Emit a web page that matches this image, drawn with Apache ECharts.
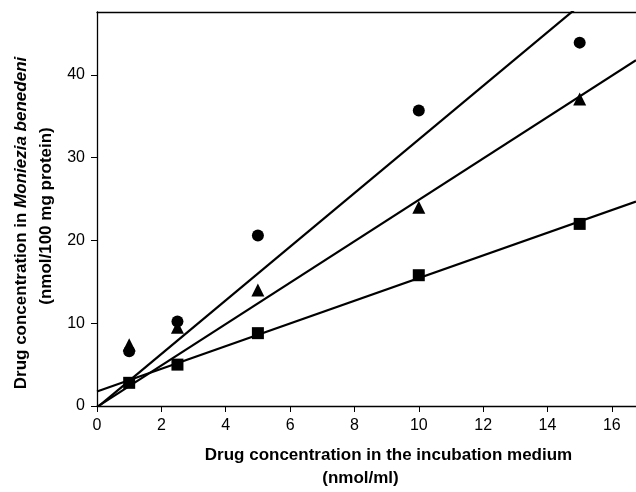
<!DOCTYPE html>
<html>
<head>
<meta charset="utf-8">
<script src="https://cdn.jsdelivr.net/npm/echarts@6/dist/echarts.min.js"></script>
<style>
  html, body { margin: 0; padding: 0; background: #fff; }
  #chart { width: 636px; height: 492px; }
</style>
</head>
<body>
<div id="chart"></div>
<script>
// drug concentration in the medium (nmol/ml)
const concentrations = [1, 2.5, 5, 10, 15];
// uptake by Moniezia benedeni (nmol/100 mg protein)
const circleValues = [6.6, 10.2, 20.6, 35.7, 43.9];
const triangleValues = [7.4, 9.5, 14.0, 24.0, 37.1];
const squareValues = [2.8, 5.0, 8.8, 15.8, 22.0];
// regression lines: circle, triangle, square
const fitSlopes = [3.24, 2.50, 1.37];
const fitIntercepts = [-0.2, -0.1, 1.75];
const xTicks = [0, 2, 4, 6, 8, 10, 12, 14, 16];
const yTicks = [0, 10, 20, 30, 40];

const X_MAX = 16.75;
const Y_MAX = 47.6;
const FONT = "'Liberation Sans', Arial, sans-serif";

function points(values) {
  return concentrations.map((x, i) => [x, values[i]]);
}

function fitLine(k) {
  return [
    [0, fitIntercepts[k]],
    [X_MAX, fitIntercepts[k] + fitSlopes[k] * X_MAX]
  ];
}

let chart = echarts.init(document.getElementById("chart"));

const lineSeries = [0, 1, 2].map(k => ({
  type: "line",
  data: fitLine(k),
  symbol: "none",
  lineStyle: { color: "#000", width: 2.2 },
  silent: true,
  z: 2
}));

const dot = { color: "#000", opacity: 1 };

chart.setOption({
  animation: false,
  grid: { left: 97, right: 0, top: 12, bottom: 82 },
  xAxis: [
    {
      type: "value",
      min: 0,
      max: X_MAX,
      interval: 2,
      splitLine: { show: false },
      axisLine: { lineStyle: { color: "#000", width: 1.3 } },
      axisTick: { length: 6, lineStyle: { color: "#000" }, customValues: xTicks },
      axisLabel: {
        color: "#000", fontSize: 16, fontFamily: FONT, margin: 12,
        customValues: xTicks
      },
      name: "{a|Drug concentration in the incubation medium}\n{b|(nmol/ml)}",
      nameLocation: "middle",
      nameGap: 38,
      nameTextStyle: {
        rich: {
          a: { fontSize: 17, fontWeight: "bold", fontFamily: FONT, color: "#000", lineHeight: 23, padding: [0, 0, 0, 44] },
          b: { fontSize: 17, fontWeight: "bold", fontFamily: FONT, color: "#000", lineHeight: 23, padding: [0, 12, 0, 0] }
        }
      }
    },
    {
      type: "value",
      position: "top",
      min: 0,
      max: X_MAX,
      splitLine: { show: false },
      axisLine: { lineStyle: { color: "#000", width: 1.3 } },
      axisTick: { show: false },
      axisLabel: { show: false }
    }
  ],
  yAxis: {
    type: "value",
    min: 0,
    max: Y_MAX,
    interval: 10,
    splitLine: { show: false },
    axisLine: { show: true, lineStyle: { color: "#000", width: 1.3 } },
    axisTick: { show: true, length: 6, lineStyle: { color: "#000" }, customValues: yTicks },
    axisLabel: {
      color: "#000", fontSize: 16, fontFamily: FONT, margin: 12,
      customValues: yTicks
    },
    name: "{a|Drug concentration in }{i|Moniezia benedeni}{p|}\n{b|(nmol/100 mg protein)}",
    nameLocation: "middle",
    nameGap: 38,
    nameTextStyle: {
      rich: {
        a: { fontSize: 17, fontWeight: "bold", fontFamily: FONT, color: "#000", lineHeight: 25 },
        i: { fontSize: 17, fontWeight: "bold", fontStyle: "italic", fontFamily: FONT, color: "#000", lineHeight: 25 },
        p: { width: 28, lineHeight: 25 },
        b: { fontSize: 17, fontWeight: "bold", fontFamily: FONT, color: "#000", lineHeight: 25, padding: [0, 14, 0, 0] }
      }
    }
  },
  series: lineSeries.concat([
    {
      type: "scatter",
      data: points(circleValues),
      symbol: "circle",
      symbolSize: 12,
      itemStyle: dot,
      z: 3
    },
    {
      type: "scatter",
      data: points(triangleValues),
      symbol: "triangle",
      symbolSize: [13, 13],
      itemStyle: dot,
      z: 3
    },
    {
      type: "scatter",
      data: points(squareValues),
      symbol: "rect",
      symbolSize: 12,
      itemStyle: dot,
      z: 3
    }
  ])
});
</script>
</body>
</html>
